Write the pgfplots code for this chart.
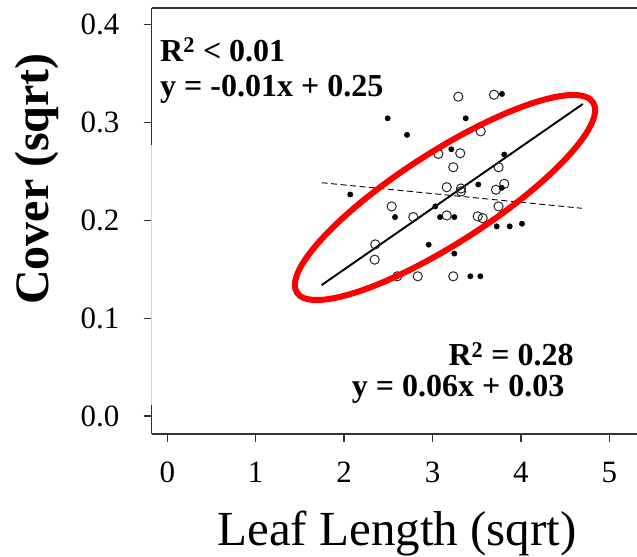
\documentclass[border=0pt]{standalone}
\usepackage{pgfplots}
\pgfplotsset{compat=1.18}
\usepackage{pgfplotstable}
\usepackage{fontspec}
\setmainfont{Liberation Serif}

% open circles
\pgfplotstableread{
x y
3.292 0.3262
3.696 0.3282
3.545 0.2908
3.066 0.2678
3.314 0.2684
3.235 0.2541
3.747 0.2541
3.161 0.2337
3.322 0.2324
3.322 0.2294
3.718 0.2311
3.812 0.2372
2.538 0.2141
3.747 0.2141
2.783 0.2032
3.161 0.2049
3.511 0.2039
3.568 0.2021
2.353 0.1753
2.346 0.1597
2.602 0.1427
2.833 0.1427
3.235 0.1427
}\opendata

% filled dots
\pgfplotstableread{
x y
3.786 0.3290
2.493 0.3041
3.376 0.3041
2.712 0.2872
3.213 0.2725
3.812 0.2671
3.518 0.2365
3.783 0.2331
2.070 0.2263
3.032 0.2141
2.576 0.2032
3.085 0.2032
3.247 0.2032
3.726 0.1937
3.873 0.1937
4.012 0.1964
2.957 0.1750
3.247 0.1659
3.428 0.1427
3.541 0.1427
}\filleddata

\begin{document}
\begin{tikzpicture}
\useasboundingbox (-151.7bp,-123bp) rectangle (485.3bp,434bp);
\begin{axis}[
  at={(0,0)}, anchor=south west,
  scale only axis, width=485.3bp, height=426bp,
  xmin=-0.176, xmax=5.313, ymin=-0.0184, ymax=0.4168,
  axis x line*=bottom, axis y line*=left,
  x axis line style={line width=1.2bp, black!80},
  y axis line style={draw=none},
  tick align=outside, major tick length=8bp,
  tick style={line width=1.2bp, black!80},
  xtick={0,1,2,3,4,5}, ytick={0,0.1,0.2,0.3,0.4},
  /pgf/number format/assume math mode=true,
  tick label style={font=\fontsize{31bp}{31bp}\selectfont, inner sep=0pt},
  xticklabel style={anchor=north, yshift=-20bp},
  yticklabel style={anchor=east, xshift=-24bp,
    /pgf/number format/.cd, fixed, fixed zerofill, precision=1},
  clip=false,
]
\addplot[only marks, mark=o, mark size=4.6bp, mark options={line width=1bp, black!85}] table {\opendata};
\addplot[only marks, mark=*, mark size=2.7bp, mark options={black}] table {\filleddata};
\addplot[black, line width=1.9bp] coordinates {(1.747,0.1338) (4.700,0.3187)};
\addplot[black, line width=0.9bp, dash pattern=on 6bp off 3.5bp] coordinates {(1.747,0.2383) (4.690,0.2122)};
\end{axis}
% frame (top and left)
\draw[line width=1.2bp, black!80] (0,426bp) -- (485.3bp,426bp);
\draw[line width=1.2bp, black!80] (0,0) -- (0,29bp);
\draw[line width=1.2bp, black!18] (0,29bp) -- (0,289bp);
\draw[line width=1.2bp, black!80] (0,289bp) -- (0,426bp);
% highlight ellipse
\draw[red, line width=6bp, rotate around={32.7:(293.3bp,236.5bp)}] (293.3bp,236.5bp) ellipse [x radius=176bp, y radius=45.5bp];
% annotations
\node[anchor=base west, inner sep=0pt, font=\fontsize{32bp}{32bp}\selectfont\bfseries] at (8.3bp,372.3bp) {R\textsuperscript{2} < 0.01};
\node[anchor=base west, inner sep=0pt, font=\fontsize{32bp}{32bp}\selectfont\bfseries] at (8.3bp,337.3bp) {y = -0.01x + 0.25};
\node[anchor=base west, inner sep=0pt, font=\fontsize{32bp}{32bp}\selectfont\bfseries] at (296.6bp,68bp) {R\textsuperscript{2} = 0.28};
\node[anchor=base west, inner sep=0pt, font=\fontsize{32bp}{32bp}\selectfont\bfseries] at (200bp,37.3bp) {y = 0.06x + 0.03};
% axis labels
\node[anchor=base, inner sep=0pt, font=\fontsize{49bp}{49bp}\selectfont] at (245.3bp,-111bp) {Leaf Length (sqrt)};
\node[anchor=base, inner sep=0pt, rotate=90, font=\fontsize{48bp}{48bp}\selectfont\bfseries] at (-103.4bp,255bp) {Cover (sqrt)};
\end{tikzpicture}
\end{document}
